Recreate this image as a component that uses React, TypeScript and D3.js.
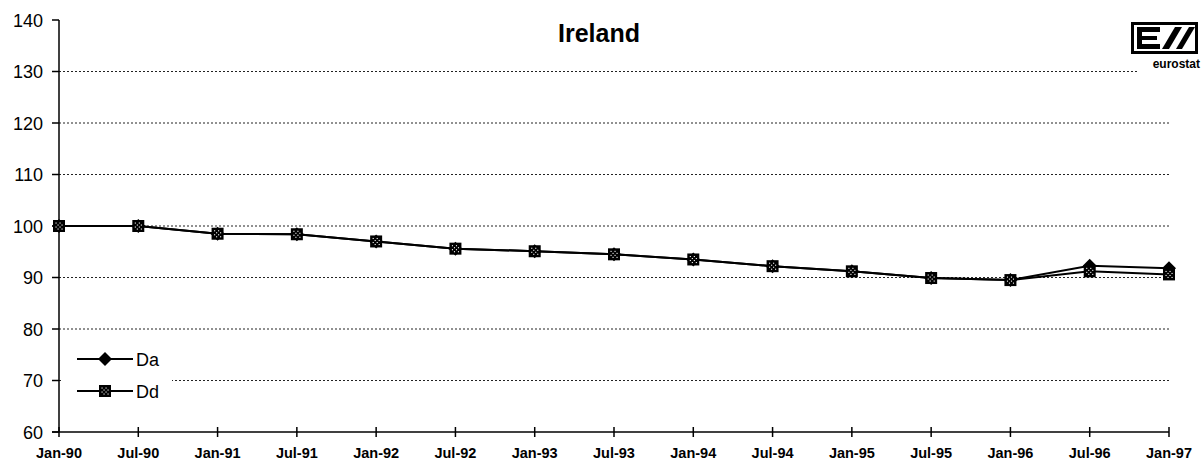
import React from "react";
import * as d3 from "d3";

const categories = ["Jan-90","Jul-90","Jan-91","Jul-91","Jan-92","Jul-92","Jan-93","Jul-93","Jan-94","Jul-94","Jan-95","Jul-95","Jan-96","Jul-96","Jan-97"];
const daValues = [100, 100, 98.5, 98.4, 97.0, 95.6, 95.1, 94.5, 93.5, 92.2, 91.2, 89.9, 89.5, 92.3, 91.8];
const ddValues = [100, 100, 98.5, 98.4, 97.0, 95.6, 95.1, 94.5, 93.5, 92.2, 91.2, 89.9, 89.5, 91.2, 90.6];
const yTicks = [60, 70, 80, 90, 100, 110, 120, 130, 140];
const gridTicks = [70, 80, 90, 100, 110, 120, 130];
const title = "Ireland";
const seriesNames = ["Da", "Dd"];

const W = 1202, H = 463;
const FONT = "'Liberation Sans', Arial, Helvetica, sans-serif";

function DdMarker({ x, y, s = 12 }: { x: number; y: number; s?: number }) {
  const h = s / 2;
  const dots = [[-3, -3], [1, -3], [-1, -1], [3, -1], [-3, 1], [1, 1], [-1, 3], [3, 3]];
  return (
    <g transform={`translate(${x},${y})`}>
      <rect x={-h} y={-h} width={s} height={s} fill="#000" />
      {dots.map(([dx, dy], i) => (
        <rect key={i} x={dx - 0.5} y={dy - 0.5} width={1.1} height={1.1} fill="#fff" />
      ))}
    </g>
  );
}

function DaMarker({ x, y, s = 7 }: { x: number; y: number; s?: number }) {
  return <path d={`M${x},${y - s}L${x + s},${y}L${x},${y + s}L${x - s},${y}Z`} fill="#000" />;
}

export default function App() {
  const x = d3.scalePoint<string>().domain(categories).range([59, 1169]);
  const y = d3.scaleLinear().domain([60, 140]).range([432, 20]);
  const line = d3.line<number>().x((_, i) => x(categories[i]) as number).y((v) => y(v));

  return (
    <svg width={W} height={H} style={{ position: "absolute", left: 0, top: 0, background: "#fff" }} fontFamily={FONT}>
      <rect width={W} height={H} fill="#fff" />
      {/* gridlines */}
      {gridTicks.map((t) => (
        <line key={t} x1={59} x2={1169} y1={y(t)} y2={y(t)} stroke="#222" strokeWidth={1} strokeDasharray="2,2" />
      ))}
      {/* title */}
      <text x={599} y={42} textAnchor="middle" fontSize={25} fontWeight="bold">{title}</text>
      {/* y axis */}
      <line x1={59} x2={59} y1={y(140)} y2={y(60)} stroke="#000" strokeWidth={1.5} />
      {yTicks.map((t) => (
        <g key={t}>
          <line x1={52} x2={59} y1={y(t)} y2={y(t)} stroke="#000" strokeWidth={1.5} />
          <text x={43} y={y(t) + 6.5} textAnchor="end" fontSize={18}>{t}</text>
        </g>
      ))}
      {/* x axis */}
      <line x1={52} x2={1169} y1={y(60)} y2={y(60)} stroke="#000" strokeWidth={1.5} />
      {categories.map((c) => (
        <g key={c}>
          <line x1={x(c)} x2={x(c)} y1={y(60) - 5} y2={y(60) + 5} stroke="#000" strokeWidth={1.5} />
          <text x={x(c)} y={458} textAnchor="middle" fontSize={14.5} fontWeight="bold">{c}</text>
        </g>
      ))}
      {/* series */}
      <path d={line(daValues) || ""} fill="none" stroke="#000" strokeWidth={2} />
      <path d={line(ddValues) || ""} fill="none" stroke="#000" strokeWidth={2} />
      {daValues.map((v, i) => (
        <DaMarker key={"a" + i} x={x(categories[i]) as number} y={y(v)} />
      ))}
      {ddValues.map((v, i) => (
        <DdMarker key={"d" + i} x={x(categories[i]) as number} y={y(v)} />
      ))}
      {/* legend */}
      <rect x={62} y={342} width={110} height={66} fill="#fff" />
      <line x1={77} x2={133} y1={359} y2={359} stroke="#000" strokeWidth={2} />
      <DaMarker x={105} y={359} />
      <text x={136} y={365.5} fontSize={18}>{seriesNames[0]}</text>
      <line x1={77} x2={133} y1={391} y2={391} stroke="#000" strokeWidth={2} />
      <DdMarker x={105} y={391} />
      <text x={136} y={397.5} fontSize={18}>{seriesNames[1]}</text>
      {/* eurostat logo */}
      <g>
        <rect x={1138} y={20} width={64} height={52} fill="#fff" />
        <rect x={1132.5} y={23.5} width={64} height={29} fill="#fff" stroke="#000" strokeWidth={3} />
        <path d="M1137,27H1160V32H1142V36H1157V40H1142V44H1160V49H1137Z" fill="#000" />
        <path d="M1162,49L1175,27H1182L1169,49Z" fill="#000" />
        <path d="M1176,49L1189,27H1195L1182,49Z" fill="#000" />
        <text x={1200} y={68} textAnchor="end" fontSize={12} fontWeight="bold">eurostat</text>
      </g>
    </svg>
  );
}
